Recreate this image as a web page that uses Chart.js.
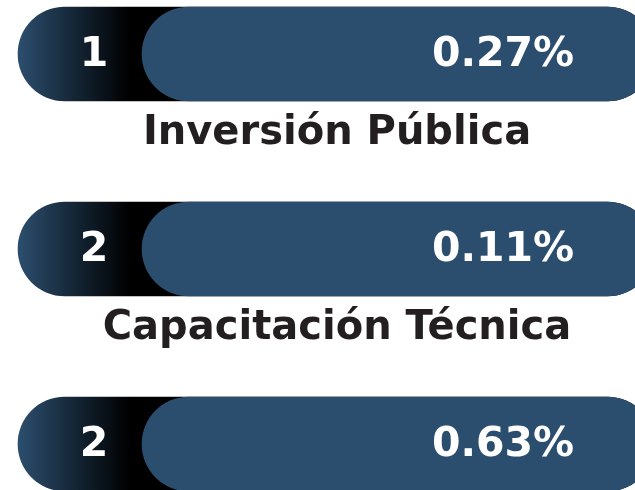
<!DOCTYPE html>
<html lang="es">
<head>
  <meta charset="utf-8">
  <title>Indicadores</title>
  <script src="https://cdn.jsdelivr.net/npm/chart.js@4.4.1/dist/chart.umd.min.js"></script>
  <style>
    html, body { margin: 0; padding: 0; background: #fff; }
    #wrap { width: 635px; height: 490px; position: relative; }
  </style>
</head>
<body>
<div id="wrap">
  <canvas id="rankChart"></canvas>
</div>
<script>
// data
var categories = ['Inversión Pública', 'Capacitación Técnica', ''];
var ranks = [1, 2, 2];
var percents = [0.27, 0.11, 0.63];

var blue = '#2c4e6e';
var ink = '#231f20';

// every row is a full-length pill; the value pill starts after the rank cap
var trackEnd = 1;
var valueStart = 0.195;

var rankGradient = function(context) {
  var chart = context.chart;
  var area = chart.chartArea;
  if (!area) return blue;
  var g = chart.ctx.createLinearGradient(area.left, 0, area.left + 112, 0);
  g.addColorStop(0, blue);
  g.addColorStop(0.45, '#172a3c');
  g.addColorStop(1, '#000000');
  return g;
};

var textPlugin = {
  id: 'rowText',
  afterDatasetsDraw: function(chart) {
    var ctx = chart.ctx;
    var meta = chart.getDatasetMeta(1);
    var rankMeta = chart.getDatasetMeta(0);
    ctx.save();
    ctx.textBaseline = 'middle';
    ctx.textAlign = 'center';
    for (var i = 0; i < categories.length; i++) {
      var y = meta.data[i].y;
      ctx.fillStyle = '#ffffff';
      ctx.font = 'bold 41px "DejaVu Sans", sans-serif';
      ctx.fillText(String(ranks[i]), rankMeta.data[i].base + 76, y + 1);
      ctx.fillText(percents[i].toFixed(2) + '%', 503, y + 1);

      if (categories[i]) {
        ctx.fillStyle = ink;
        ctx.font = 'bold 40px "DejaVu Sans", sans-serif';
        ctx.fillText(categories[i], 337, y + 80);
      }
    }
    ctx.restore();
  }
};

var ctx = document.getElementById('rankChart').getContext('2d');
var chart = new Chart(ctx, {
  type: 'bar',
  data: {
    labels: categories,
    datasets: [{
      label: 'Posición',
      data: categories.map(function() { return [0, trackEnd]; }),
      backgroundColor: rankGradient,
      borderRadius: 47,
      borderSkipped: false,
      barThickness: 94,
      order: 2,
      clip: false
    }, {
      label: 'Porcentaje',
      data: categories.map(function() { return [valueStart, trackEnd]; }),
      backgroundColor: blue,
      borderRadius: 47,
      borderSkipped: false,
      barThickness: 94,
      order: 1,
      clip: false
    }]
  },
  options: {
    indexAxis: 'y',
    responsive: true,
    maintainAspectRatio: false,
    animation: false,
    grouped: false,
    layout: { padding: { top: 54, bottom: 46, left: 18, right: 0 } },
    scales: {
      x: { display: false, min: 0, max: 0.97 },
      y: { display: false, offset: false, grid: { display: false } }
    },
    plugins: {
      legend: { display: false },
      tooltip: { enabled: false }
    }
  },
  plugins: [textPlugin]
});
</script>
</body>
</html>
